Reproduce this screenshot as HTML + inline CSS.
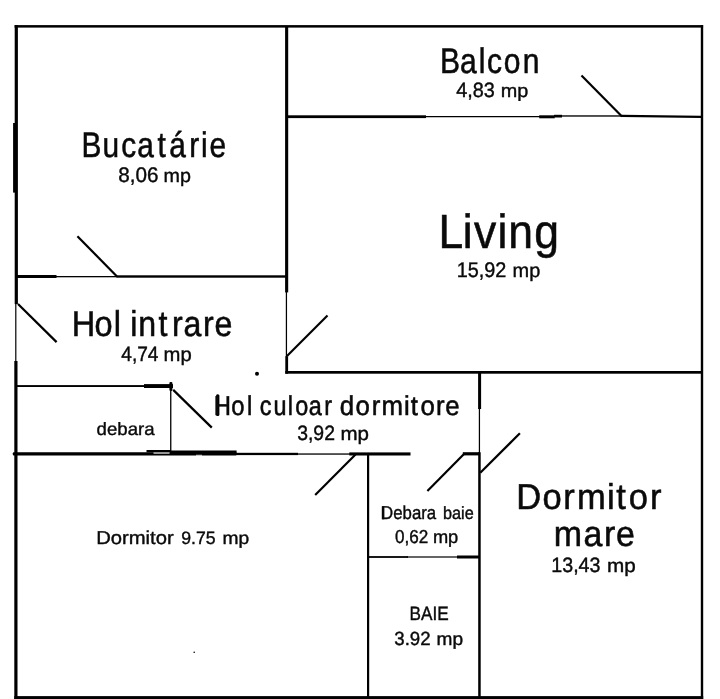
<!DOCTYPE html>
<html><head><meta charset="utf-8"><title>Plan</title>
<style>
html,body{margin:0;padding:0;background:#fff;}
body{width:720px;height:699px;overflow:hidden;}
svg{display:block;filter:grayscale(1);}
text{font-family:"Liberation Sans",sans-serif;fill:#0a0a0a;text-rendering:geometricPrecision;}
</style></head><body>
<svg width="720" height="699" viewBox="0 0 720 699">
<rect width="720" height="699" fill="#fff"/>

<g fill="#000">
<!-- outer -->
<rect x="14.6" y="25.1" width="688.5" height="2.5"/>
<rect x="14.7" y="25.1" width="3.2" height="279"/>
<rect x="15.2" y="303" width="1.2" height="59"/>
<rect x="14.3" y="361" width="3.2" height="338"/>
<rect x="13.1" y="123" width="3" height="69.6"/>
<rect x="700.8" y="25.1" width="2.4" height="674"/>
<rect x="14.3" y="696.1" width="688.9" height="3.2"/>
<!-- vertical 286 -->
<rect x="285.1" y="26" width="3.1" height="266.4"/>
<rect x="285.8" y="292" width="1.25" height="65"/>
<rect x="285.3" y="356.2" width="2.8" height="17.5"/>
<!-- balcony bottom -->
<rect x="286" y="115.3" width="140" height="2.8"/>
<rect x="425" y="116" width="115" height="1.25"/>
<rect x="539.2" y="115.3" width="15.5" height="3"/>
<rect x="554" y="114.8" width="8" height="2.7"/>
<rect x="561" y="115.3" width="61" height="1.35"/>
<polygon points="621.5,114.7 701,115.8 701,118 621.5,116.9"/>
<!-- kitchen bottom -->
<rect x="16" y="275" width="40.5" height="3"/>
<rect x="56" y="276" width="62" height="1.3"/>
<rect x="117.2" y="275.3" width="170" height="2.4"/>
<!-- living bottom -->
<rect x="285.3" y="371" width="417" height="2.7"/>
<!-- debara top -->
<rect x="16" y="385.1" width="129" height="1.9"/>
<rect x="144" y="384.1" width="29" height="3.9"/>
<rect x="169.4" y="381.9" width="3" height="9" rx="1.2"/>
<rect x="170.1" y="385" width="1.3" height="67"/>
<!-- main corridor bottom line -->
<rect x="12.8" y="452.2" width="223.8" height="3.3" rx="1"/>
<rect x="146.5" y="450" width="24" height="2.4"/>
<rect x="170" y="450.5" width="66.6" height="3"/>
<rect x="153.5" y="452.5" width="16" height="1.1" fill="#fff"/>
<rect x="196" y="454.8" width="6" height="0.8" fill="#fff"/>
<rect x="236" y="452.8" width="62" height="2.3"/>
<rect x="297" y="453.4" width="53" height="1.3"/>
<rect x="349.3" y="452.4" width="61.2" height="3.1"/>
<!-- bath walls -->
<rect x="367" y="454" width="2.2" height="243"/>
<rect x="478.1" y="371" width="3" height="38"/>
<rect x="478.8" y="408" width="1.25" height="46"/>
<rect x="478.2" y="452.3" width="2.5" height="245"/>
<rect x="462.8" y="452.2" width="17" height="3.2"/>
<rect x="368" y="556.1" width="40" height="1.8"/>
<rect x="407" y="556.4" width="51" height="1.2"/>
<rect x="457" y="555.5" width="22" height="3"/>
<!-- dots -->
<circle cx="257" cy="373.7" r="2"/>
<circle cx="194.2" cy="652.2" r="0.8"/>
<!-- bold stems -->
<rect x="216" y="394.2" width="3.4" height="21.8" rx="1.5"/>
<rect x="381.8" y="506.3" width="2.5" height="13"/>
</g>
<g stroke="#000" stroke-width="2.2" stroke-linecap="butt" fill="none">
<line x1="581.5" y1="75.6" x2="622" y2="116.6"/>
<line x1="77.4" y1="236.2" x2="117.5" y2="277"/>
<line x1="18" y1="304" x2="56.6" y2="342.1"/>
<line x1="287" y1="356" x2="327.5" y2="315.5"/>
<line x1="173.2" y1="389.9" x2="211.8" y2="427.6"/>
<line x1="355.5" y1="454.5" x2="315.2" y2="495"/>
<line x1="464" y1="454" x2="427.4" y2="491"/>
<line x1="480.3" y1="472.8" x2="519.9" y2="433.2"/>
</g>

<g>
<text transform="translate(456.25,96.70) scale(0.9575,1)" font-size="20.76" stroke="#0a0a0a" stroke-width="0.4">4,83</text>
<text transform="translate(500.75,96.70) scale(1.0533,1)" font-size="18.83" stroke="#0a0a0a" stroke-width="0.4">mp</text>
<text transform="translate(118.25,181.80) scale(0.9829,1)" font-size="21.05" stroke="#0a0a0a" stroke-width="0.4">8,06</text>
<text transform="translate(163.56,181.80) scale(1.0352,1)" font-size="19.02" stroke="#0a0a0a" stroke-width="0.4">mp</text>
<text transform="translate(456.66,276.80) scale(0.9368,1)" font-size="21.19" stroke="#0a0a0a" stroke-width="0.4">15,92</text>
<text transform="translate(512.58,276.80) scale(1.0197,1)" font-size="19.57" stroke="#0a0a0a" stroke-width="0.4">mp</text>
<text transform="translate(121.25,361.20) scale(0.9223,1)" font-size="20.76" stroke="#0a0a0a" stroke-width="0.4">4,74</text>
<text transform="translate(163.57,361.20) scale(1.0250,1)" font-size="19.75" stroke="#0a0a0a" stroke-width="0.4">mp</text>
<text transform="translate(297.20,439.90) scale(0.9336,1)" font-size="20.76" stroke="#0a0a0a" stroke-width="0.4">3,92</text>
<text transform="translate(340.42,439.90) scale(1.0795,1)" font-size="19.02" stroke="#0a0a0a" stroke-width="0.4">mp</text>
<text transform="translate(96.60,434.90) scale(1.0432,1)" font-size="17.84" stroke="#0a0a0a" stroke-width="0.4">debara</text>
<text transform="translate(96.21,544.10) scale(1.0872,1)" font-size="18.60" stroke="#0a0a0a" stroke-width="0.4">Dormitor</text>
<text transform="translate(181.20,544.00) scale(0.9776,1)" font-size="18.06" stroke="#0a0a0a" stroke-width="0.4">9.75</text>
<text transform="translate(222.62,544.10) scale(1.0817,1)" font-size="17.74" stroke="#0a0a0a" stroke-width="0.4">mp</text>
<text transform="translate(381.10,519.30) scale(0.9037,1)" font-size="18.60" stroke="#0a0a0a" stroke-width="0.4">Debara</text>
<text transform="translate(442.98,519.30) scale(0.9201,1)" font-size="17.70" stroke="#0a0a0a" stroke-width="0.4">baie</text>
<text transform="translate(394.90,542.70) scale(0.9194,1)" font-size="18.63" stroke="#0a0a0a" stroke-width="0.4">0,62</text>
<text transform="translate(432.89,542.70) scale(1.0095,1)" font-size="18.10" stroke="#0a0a0a" stroke-width="0.4">mp</text>
<text transform="translate(409.51,619.70) scale(0.8950,1)" font-size="19.19" stroke="#0a0a0a" stroke-width="0.4">BAIE</text>
<text transform="translate(394.25,645.30) scale(0.9800,1)" font-size="19.06" stroke="#0a0a0a" stroke-width="0.4">3.92</text>
<text transform="translate(436.54,645.30) scale(1.0552,1)" font-size="18.10" stroke="#0a0a0a" stroke-width="0.4">mp</text>
<text transform="translate(551.25,571.50) scale(0.9487,1)" font-size="20.76" stroke="#0a0a0a" stroke-width="0.4">13,43</text>
<text transform="translate(606.91,571.50) scale(1.0875,1)" font-size="19.02" stroke="#0a0a0a" stroke-width="0.4">mp</text>
<text transform="translate(0,72.60) scale(0.8468,1)" font-size="35.47" x="519.49 543.19 565.25 575.16 594.94 617.44" y="0" stroke="#0a0a0a" stroke-width="0.55">Balcon</text>
<text transform="translate(0,157.40) scale(0.8417,1)" font-size="35.47" x="96.71 121.82 144.09 163.08 187.24 201.10 224.74 238.91 248.95" y="0" stroke="#0a0a0a" stroke-width="0.55">Bucatárie</text>
<text transform="translate(0,248.20) scale(0.9270,1)" font-size="47.97" x="472.93 499.25 511.25 536.68 548.31 576.27" y="0" stroke="#0a0a0a" stroke-width="0.55">Living</text>
<text transform="translate(0,335.70) scale(0.9093,1)" font-size="35.76" x="78.83 103.93 125.11" y="0" stroke="#0a0a0a" stroke-width="0.55">Hol</text>
<text transform="translate(0,335.70) scale(0.8989,1)" font-size="35.76" x="144.80 153.71 176.34 191.48 204.16 225.91 238.65" y="0" stroke="#0a0a0a" stroke-width="0.55">intrare</text>
<text transform="translate(0,414.70) scale(0.8773,1)" font-size="27.18" x="243.63 263.48 281.52" y="0" stroke="#0a0a0a" stroke-width="0.55">Hol</text>
<text transform="translate(0,414.70) scale(0.8615,1)" font-size="27.18" x="301.46 317.50 334.13 342.80 358.29 376.53" y="0" stroke="#0a0a0a" stroke-width="0.55">culoar</text>
<text transform="translate(0,414.70) scale(0.9500,1)" font-size="27.18" x="357.71 374.34 391.26 401.53 425.21 432.32 442.71 458.84 468.82" y="0" stroke="#0a0a0a" stroke-width="0.55">dormitore</text>
<text transform="translate(0,508.60) scale(0.9622,1)" font-size="35.90" x="536.65 563.69 585.45 599.64 630.91 640.51 653.54 675.61" y="0" stroke="#0a0a0a" stroke-width="0.55">Dormitor</text>
<text transform="translate(0,545.60) scale(0.9452,1)" font-size="35.90" x="585.82 617.35 639.00 651.81" y="0" stroke="#0a0a0a" stroke-width="0.55">mare</text>
</g>
</svg>
</body></html>
